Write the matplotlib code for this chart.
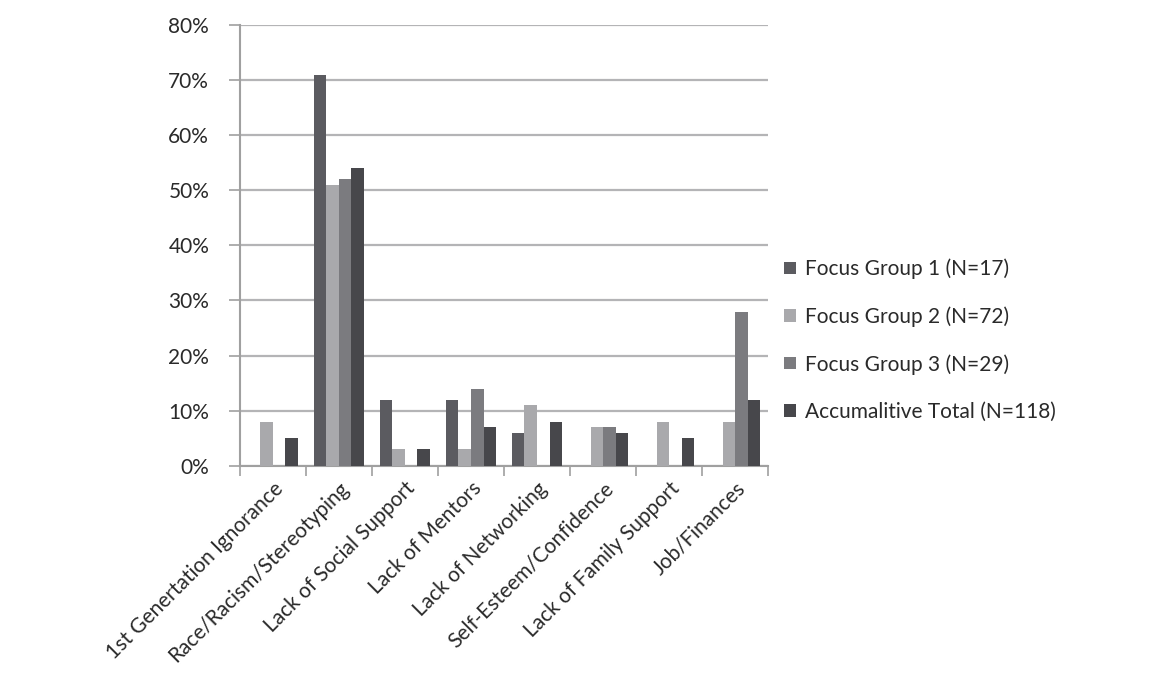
import numpy as np
import matplotlib
matplotlib.use("Agg")
import matplotlib.pyplot as plt
from matplotlib.ticker import FuncFormatter, FixedLocator

categories = ["1st Genertation Ignorance", "Race/Racism/Stereotyping", "Lack of Social Support",
              "Lack of Mentors", "Lack of Networking", "Self-Esteem/Confidence",
              "Lack of Family Support", "Job/Finances"]
series_names = ["Focus Group 1 (N=17)", "Focus Group 2 (N=72)",
                "Focus Group 3 (N=29)", "Accumalitive Total (N=118)"]
fg1 = [0, 71, 12, 12, 6, 0, 0, 0]
fg2 = [8, 51, 3, 3, 11, 7, 8, 8]
fg3 = [0, 52, 0, 14, 0, 7, 0, 28]
total = [5, 54, 3, 7, 8, 6, 5, 12]
colors = ["#5b5b60", "#a9a9ac", "#7b7b7f", "#47474b"]

plt.rcParams['font.family'] = ['Lato', 'DejaVu Sans']

fig = plt.figure(figsize=(11.64, 6.76), dpi=100)
ax = fig.add_axes([0.206, 0.311, 0.454, 0.652])

x = np.arange(len(categories))
w = 0.19
for i, (vals, name, c) in enumerate(zip([fg1, fg2, fg3, total], series_names, colors)):
    ax.bar(x + (i - 1.5) * w, vals, width=w, color=c, label=name, zorder=3)

ax.set_xlim(-0.5, len(categories) - 0.5)
ax.set_ylim(0, 80)
ax.set_yticks(np.arange(0, 81, 10))
ax.yaxis.set_major_formatter(FuncFormatter(lambda v, p: f"{int(v)}%"))
ax.grid(axis='y', color='#b4b4b6', linewidth=1.6, zorder=0)

ax.set_xticks(x)
ax.set_xticklabels(categories, rotation=45, ha='right', rotation_mode='anchor',
                   fontsize=15, color='#2a2a2a')
ax.tick_params(axis='x', length=0, pad=9)
ax.xaxis.set_minor_locator(FixedLocator(np.arange(-0.5, len(categories), 1.0)))
ax.tick_params(axis='x', which='minor', length=7, color='#a0a0a0', width=1.2)
ax.tick_params(axis='y', length=8, color='#a0a0a0', width=1.2, labelsize=15,
               labelcolor='#2a2a2a', pad=14)

for s in ['top', 'right']:
    ax.spines[s].set_visible(False)
for s in ['left', 'bottom']:
    ax.spines[s].set_color('#a0a0a0')
    ax.spines[s].set_linewidth(1.5)

ax.legend(loc='center left', bbox_to_anchor=(1.03, 0.285), frameon=False, fontsize=15,
          handlelength=0.55, handleheight=0.55, handletextpad=0.45, labelspacing=1.3,
          borderaxespad=0, borderpad=0, labelcolor='#2a2a2a')

fig.savefig("out.png", dpi=100)
